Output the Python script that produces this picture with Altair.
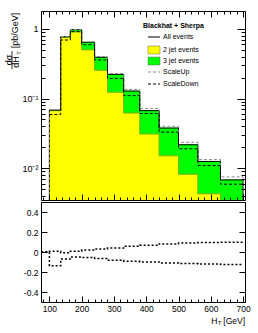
import altair as alt
import pandas as pd

# ---------------- data ----------------
edges = [100, 135, 165, 200, 240, 280, 330, 380, 440, 500, 560, 630, 700]
all_events = [0.068, 0.77, 0.97, 0.64, 0.39, 0.222, 0.128, 0.067, 0.0377, 0.0217, 0.0125, 0.0068]
two_jet = [0.067, 0.75, 0.905, 0.50, 0.254, 0.123, 0.062, 0.031, 0.0151, 0.0082, 0.0043, 0.0030]
scale_up = [0.069, 0.775, 0.975, 0.65, 0.40, 0.228, 0.135, 0.072, 0.040, 0.0235, 0.0133, 0.0075]
scale_down = [0.059, 0.69, 0.91, 0.59, 0.357, 0.194, 0.110, 0.061, 0.033, 0.019, 0.0109, 0.0059]

ratio_edges = [75, 100, 135, 165, 200, 240, 280, 330, 380, 440, 500, 560, 630, 700]
ratio_up = [0.0, 0.007, -0.008, 0.007, 0.02, 0.03, 0.04, 0.057, 0.067, 0.08, 0.09, 0.095, 0.097]
ratio_down = [0.0, -0.137, -0.07, -0.05, -0.055, -0.065, -0.083, -0.093, -0.1, -0.11, -0.115, -0.12, -0.125]

x_labels = [100, 200, 300, 400, 500, 600, 700]
x_minor = [80, 120, 140, 160, 180, 220, 240, 260, 280, 320, 340, 360, 380, 420, 440, 460, 480,
           520, 540, 560, 580, 620, 640, 660, 680]
y_labels = [0.01, 0.1, 1]
y_minor = [0.004, 0.005, 0.006, 0.007, 0.008, 0.009,
           0.02, 0.03, 0.04, 0.05, 0.06, 0.07, 0.08, 0.09,
           0.2, 0.3, 0.4, 0.5, 0.6, 0.7, 0.8, 0.9]
r_labels = [-0.4, -0.2, 0, 0.2, 0.4]

legend_title = "Blackhat + Sherpa"
legend_names = ["All events", "2 jet events", "3 jet events", "ScaleUp", "ScaleDown"]

# ---------------- layout / style ----------------
W, H1, H2 = 204, 189, 100
XDOM = [74, 706]
YDOM = [0.0035, 1.8]
RDOM = [-0.5, 0.5]
FONT = "Liberation Sans"
YELLOW = "#ffff00"
GREEN = "#00ff00"


def step_df(e, vals, base=None):
    rows = []
    k = 0
    if base is not None:
        rows.append({"x": e[0], "y": base, "o": k}); k += 1
    for i, v in enumerate(vals):
        rows.append({"x": e[i], "y": v, "o": k}); k += 1
        rows.append({"x": e[i + 1], "y": v, "o": k}); k += 1
    if base is not None:
        rows.append({"x": e[-1], "y": base, "o": k})
    return pd.DataFrame(rows)


xs = alt.Scale(domain=XDOM, nice=False, zero=False)
ys = alt.Scale(type="log", domain=YDOM, nice=False)
rs = alt.Scale(domain=RDOM, nice=False, zero=False)

xtest = "datum.value % 100 == 0"
ytest = "abs(log(datum.value)/LN10 - round(log(datum.value)/LN10)) < 0.000001"


def tick_axis(orient, offset, values, test, big, small, domain=True):
    return alt.Axis(orient=orient, offset=offset, values=values, labels=False, title=None,
                    grid=False, domain=domain, domainColor="black", domainWidth=1,
                    tickColor="black", tickWidth=1,
                    tickSize={"condition": {"test": test, "value": big}, "value": small},
                    zindex=2)


x_all = sorted(x_labels + x_minor)
y_all = sorted(y_labels + y_minor)

bins = pd.DataFrame({"lo": edges[:-1], "hi": edges[1:], "total": all_events, "two": two_jet})

yellow = alt.Chart(bins).mark_rect(color=YELLOW, stroke=YELLOW, strokeWidth=0.6, clip=True).encode(
    x=alt.X("lo:Q", scale=xs, axis=tick_axis("top", -H1, x_all, xtest, 6, 3)),
    x2="hi:Q",
    y=alt.Y("two:Q", scale=ys, axis=alt.Axis(orient="left", values=y_labels, ticks=False, grid=False,
                                              domain=True, domainColor="black", title=None,
                                              labelFont=FONT, labelFontSize=9, labelPadding=3,
                                              labelColor="black", zindex=2,
                                              labelExpr="datum.value == 1 ? '1' : datum.value > 0.05 ? '10⁻¹' : '10⁻²'")),
    y2=alt.datum(YDOM[0]),
)
green = alt.Chart(bins).mark_rect(color=GREEN, stroke=GREEN, strokeWidth=0.6, clip=True).encode(
    x=alt.X("lo:Q", scale=xs, axis=tick_axis("bottom", -H1, x_all, xtest, 6, 3)),
    x2="hi:Q",
    y=alt.Y("total:Q", scale=ys, axis=tick_axis("right", -W, y_all, ytest, 8, 4, domain=False)),
    y2="two:Q",
)


def step_line(vals, color, dash=None, width=1.0, base=None, axis=None):
    kw = dict(color=color, strokeWidth=width, clip=True, interpolate="linear")
    if dash:
        kw["strokeDash"] = dash
    return alt.Chart(step_df(edges, vals, base)).mark_line(**kw).encode(
        x=alt.X("x:Q", scale=xs, axis=None),
        y=alt.Y("y:Q", scale=ys, axis=axis),
        order="o:Q",
    )


two_line = step_line(two_jet, "#9c9c00", width=0.8)
total_line = step_line(all_events, "black", width=1.0, base=YDOM[0],
                       axis=tick_axis("left", -W, y_all, ytest, 8, 4, domain=True))
up_line = step_line(scale_up, "#8c8c8c", dash=[3, 2], width=1.0, base=YDOM[0])
down_line = step_line(scale_down, "black", dash=[3, 2], width=1.0)

one = pd.DataFrame({"a": [0]})


def txt(s, x, y, size=7, bold=False, angle=0, align="left"):
    return alt.Chart(one).mark_text(text=s, font=FONT, fontSize=size, fontWeight="bold" if bold else "normal",
                                    angle=angle, align=align, baseline="middle", color="black").encode(
        x=alt.value(x), y=alt.value(y))


def rule(x1, x2, y1, y2, color="black", dash=None, width=1):
    kw = dict(color=color, strokeWidth=width)
    if dash:
        kw["strokeDash"] = dash
    return alt.Chart(one).mark_rule(**kw).encode(x=alt.value(x1), x2=alt.value(x2), y=alt.value(y1), y2=alt.value(y2))


def box(x1, x2, y1, y2, color):
    return alt.Chart(one).mark_rect(color=color, stroke="#666666", strokeWidth=0.5).encode(
        x=alt.value(x1), x2=alt.value(x2), y=alt.value(y1), y2=alt.value(y2))


LX, LT = 107, 122
legend = [
    txt(legend_title, 102, 15, size=7, bold=True),
    rule(LX, LX + 12, 26, 26),
    txt(legend_names[0], LT, 26),
    box(LX, LX + 12, 35, 43, YELLOW),
    txt(legend_names[1], LT, 39),
    box(LX, LX + 12, 46, 54, GREEN),
    txt(legend_names[2], LT, 50),
    rule(LX, LX + 12, 61, 61, color="#8c8c8c", dash=[3, 2]),
    txt(legend_names[3], LT, 61),
    rule(LX, LX + 12, 73, 73, dash=[3, 2]),
    txt(legend_names[4], LT, 73),
]

ytitle = [
    txt("dσ", -32, 49, size=9, angle=270, align="center"),
    rule(-29, -29, 40, 58, width=0.8),
    txt("dH", -25, 51, size=9, angle=270, align="center"),
    txt("T", -22.5, 42, size=6, angle=270, align="center"),
    txt("[pb/GeV]", -26, 19.5, size=9, angle=270, align="center"),
]

top = alt.layer(yellow, green, two_line, total_line, up_line, down_line, *legend, *ytitle).resolve_axis(
    x="independent", y="independent").properties(width=W, height=H1)

# ---------------- ratio panel ----------------
rtest = "true"


def ratio_line(vals, axis_x=None, axis_y=None):
    return alt.Chart(step_df(ratio_edges, vals)).mark_line(color="black", strokeWidth=1.5,
                                                           strokeDash=[2, 2], clip=True).encode(
        x=alt.X("x:Q", scale=xs, axis=axis_x),
        y=alt.Y("y:Q", scale=rs, axis=axis_y),
        order="o:Q",
    )


r_up = ratio_line(ratio_up,
                  axis_x=alt.Axis(orient="bottom", values=x_labels, ticks=False, grid=False, domain=True,
                                  domainColor="black", title=None, labelFont=FONT, labelFontSize=8.5,
                                  labelPadding=2, labelColor="black", zindex=2),
                  axis_y=alt.Axis(orient="left", values=r_labels, ticks=False, grid=False, domain=True,
                                  domainColor="black", title=None, labelFont=FONT, labelFontSize=8.5,
                                  labelPadding=3, labelColor="black", zindex=2,
                                  labelExpr="datum.value == 0 ? '0' : replace(format(datum.value, '.1f'), '−', '-')"))
r_down = ratio_line(ratio_down,
                    axis_x=tick_axis("top", -H2, x_all, xtest, 6, 3),
                    axis_y=tick_axis("right", -W, r_labels, rtest, 6, 6, domain=False))
r_axes = alt.Chart(step_df(ratio_edges, ratio_up)).mark_point(opacity=0).encode(
    x=alt.X("x:Q", scale=xs, axis=alt.Axis(orient="bottom", offset=-H2, ticks=False, labels=False,
                                           grid=False, domain=True, domainColor="black", title=None,
                                           zindex=2)),
    y=alt.Y("y:Q", scale=rs, axis=tick_axis("left", -W, r_labels, rtest, 6, 6, domain=True)),
)

xtitle = [
    txt("[GeV]", 204, 119, size=8.5, align="right"),
    txt("T", 180.5, 121, size=6, align="right"),
    txt("H", 176.5, 119, size=8.5, align="right"),
]

bottom = alt.layer(r_up, r_down, r_axes, *xtitle).resolve_axis(
    x="independent", y="independent").properties(width=W, height=H2)

chart = alt.vconcat(top, bottom, spacing=0).properties(
    padding={"left": 4, "top": 10, "right": 5, "bottom": 5}
).configure_view(stroke=None).configure(font=FONT)

chart.save("out.html", embed_options={"renderer": "svg", "actions": False})
